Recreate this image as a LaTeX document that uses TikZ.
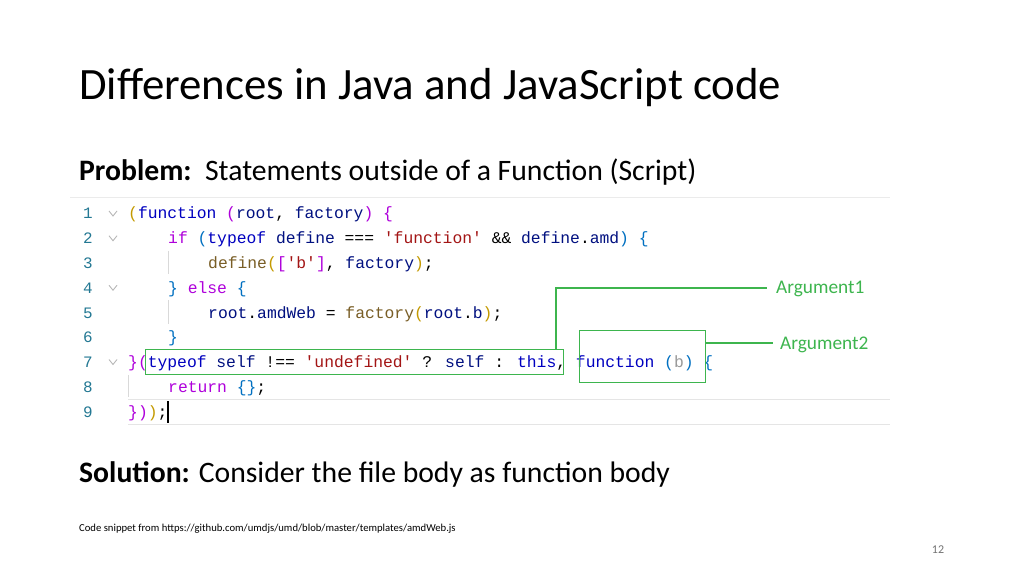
\documentclass[tikz,border=0pt]{standalone}
\usepackage{fontspec}
\setmainfont{Carlito}
\newfontfamily\codefont{Liberation Mono}
\begin{document}
\begin{tikzpicture}[x=1bp,y=-1bp,
  code/.style={anchor=base west,inner sep=0pt,font=\codefont\fontsize{16.4}{18}\selectfont},
  lnum/.style={anchor=base,inner sep=0pt,text=lnc,font=\codefont\fontsize{16}{18}\selectfont},
  guide/.style={draw=black!15,line width=0.8bp},
  hl/.style={draw=argc,line width=1.3bp},
  arg/.style={anchor=west,inner sep=0pt,text=argc,font=\fontsize{19.4}{22}\selectfont}]
\definecolor{lnc}{HTML}{237893}
\definecolor{kw}{HTML}{0000C0}
\definecolor{idc}{HTML}{001080}
\definecolor{strc}{HTML}{A31515}
\definecolor{ctl}{HTML}{AF00DB}
\definecolor{fnc}{HTML}{795E26}
\definecolor{br1}{HTML}{C49A00}
\definecolor{br2}{HTML}{AF00DB}
\definecolor{br3}{HTML}{0070C1}
\definecolor{argc}{HTML}{3DB54E}
\useasboundingbox (0,0) rectangle (1024,576);
\fill[white] (0,0) rectangle (1024,576);
\node[anchor=base west,inner sep=0pt,font=\fontsize{45}{50}\selectfont] (title) at (79,100) {Differences in Java and JavaScript code};
\node[anchor=base west,inner sep=0pt,font=\fontsize{29.8}{34}\selectfont] (prob) at (79,181) {\textbf{Problem:}\ \ Statements outside of a Function (Script)};
\node[anchor=base west,inner sep=0pt,font=\fontsize{29.8}{34}\selectfont] (sol) at (79,482) {\textbf{Solution:} Consider the file body as function body};
\node[anchor=base west,inner sep=0pt,font=\fontsize{10.7}{12}\selectfont] (foot) at (79,531) {Code snippet from https://github.com/umdjs/umd/blob/master/templates/amdWeb.js};
\node[anchor=base,inner sep=0pt,text=black!55,font=\fontsize{12}{14}\selectfont] (pg) at (938,553) {12};
% editor frame
\draw[black!8,line width=1bp] (70,198) -- (890,198);
\draw[black!10,line width=1bp] (128,399) -- (890,399);
\draw[black!10,line width=1bp] (128,424) -- (890,424);
% line numbers
\foreach \n [count=\i] in {1,...,9} {
  \node[lnum] (ln\i) at (88,{219+24.75*(\i-1)}) {\n};
}
\foreach \i in {1,2,4,7} {
  \draw[black!30,line width=0.8bp] (109,{211+24.75*(\i-1)}) -- (113,{216+24.75*(\i-1)}) -- (117,{211+24.75*(\i-1)});
}
% indent guides
\draw[guide] (168,251) -- (168,274);
\draw[guide] (168,300) -- (168,324);
\draw[guide] (128,375) -- (128,397);
% code lines (col0 = 128, 10bp per char)
\node[code] (c1) at (128,219) {\textcolor{br1}{(}\textcolor{kw}{function} \textcolor{br2}{(}\textcolor{idc}{root}, \textcolor{idc}{factory}\textcolor{br2}{)} \textcolor{br2}{\{}};
\node[code] (c2) at (168,243.75) {\textcolor{ctl}{if} \textcolor{br3}{(}\textcolor{kw}{typeof} \textcolor{idc}{define} === \textcolor{strc}{'function'} \&\& \textcolor{idc}{define}.\textcolor{idc}{amd}\textcolor{br3}{)} \textcolor{br3}{\{}};
\node[code] (c3) at (208,268.5) {\textcolor{fnc}{define}\textcolor{br1}{(}\textcolor{br2}{[}\textcolor{strc}{'b'}\textcolor{br2}{]}, \textcolor{idc}{factory}\textcolor{br1}{)};};
\node[code] (c4) at (168,293.25) {\textcolor{br3}{\}} \textcolor{ctl}{else} \textcolor{br3}{\{}};
\node[code] (c5) at (208,318) {\textcolor{idc}{root}.\textcolor{idc}{amdWeb} = \textcolor{fnc}{factory}\textcolor{br1}{(}\textcolor{idc}{root}.\textcolor{idc}{b}\textcolor{br1}{)};};
\node[code] (c6) at (168,342.75) {\textcolor{br3}{\}}};
\node[code] (c7) at (128,367.5) {\textcolor{br2}{\}}\textcolor{br2}{(}\textcolor{kw}{typeof} \textcolor{idc}{self} !== \textcolor{strc}{'undefined'} ? \textcolor{idc}{self} : \textcolor{kw}{this}, \textcolor{kw}{function} \textcolor{br3}{(}\textcolor{black!40}{b}\textcolor{br3}{)} \textcolor{br3}{\{}};
\node[code] (c8) at (168,392.25) {\textcolor{ctl}{return} \textcolor{br3}{\{\}};};
\node[code] (c9) at (128,417) {\textcolor{br2}{\}}\textcolor{br2}{)}\textcolor{br1}{)};};
\draw[black,line width=1.6bp] (168,401) -- (168,423);
% highlight boxes
\node[hl,draw,minimum width=418bp,minimum height=25bp,inner sep=0pt,anchor=north west] (box1) at (145,349) {};
\node[hl,draw,minimum width=126bp,minimum height=52bp,inner sep=0pt,anchor=north west] (box2) at (579,330) {};
\node[arg] (a1) at (776,289) {Argument1};
\node[arg] (a2) at (780,345) {Argument2};
\draw[hl] (556,349) -- (556,288) -- (767,288);
\draw[hl] (box2.east |- 0,343) -- (773,343);
\end{tikzpicture}
\end{document}
